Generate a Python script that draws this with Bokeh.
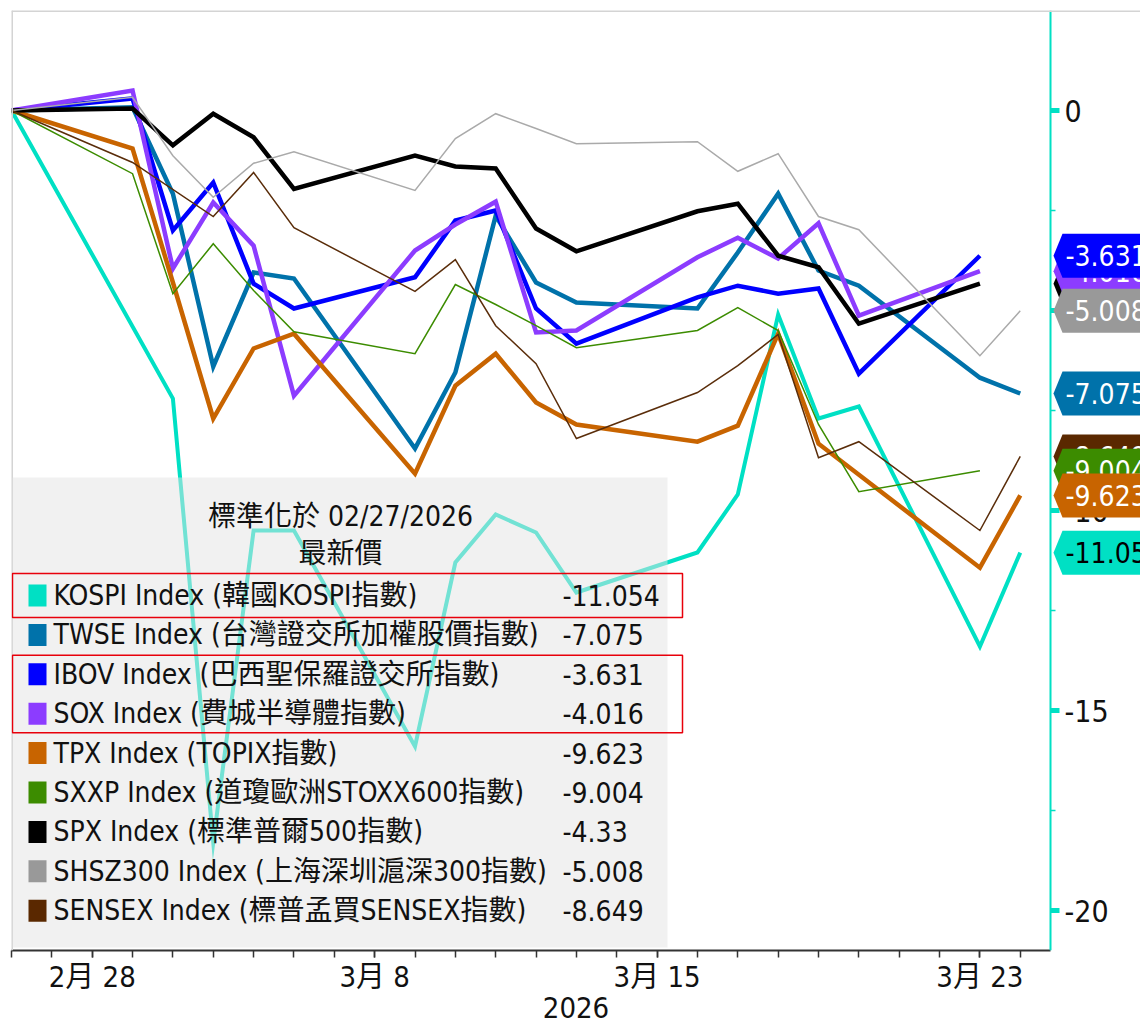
import pandas as pd
from bokeh.plotting import figure
from bokeh.models import FixedTicker, Range1d, BoxAnnotation, Label, PolyAnnotation, LinearAxis, Span
from bokeh.embed import file_html
from bokeh.resources import INLINE

# ---------------- data ----------------
dates = ["2026-02-27", "2026-03-02", "2026-03-03", "2026-03-04", "2026-03-05", "2026-03-06",
         "2026-03-09", "2026-03-10", "2026-03-11", "2026-03-12", "2026-03-13",
         "2026-03-16", "2026-03-17", "2026-03-18", "2026-03-19", "2026-03-20",
         "2026-03-23", "2026-03-24"]

kospi   = [0, None, -7.2, -18.3, -10.5, -10.5, -15.9, -11.3, -10.1, -10.55, -12.05,
           -11.05, -9.6, -5.1, -7.7, -7.4, -13.4, -11.054]
twse    = [0, 0.08, -2.08, -6.4, -4.05, -4.2, -8.45, -6.55, -2.63, -4.3, -4.8,
           -4.95, -3.55, -2.08, -4.0, -4.38, -6.68, -7.075]
ibov    = [0, 0.3, -3.0, -1.8, -4.33, -4.95, -4.17, -2.75, -2.5, -4.95, -5.83,
           -4.67, -4.38, -4.58, -4.45, -6.58, -3.631, None]
sox     = [0, 0.5, -3.95, -2.3, -3.38, -7.13, -3.5, -2.85, -2.28, -5.55, -5.5,
           -3.67, -3.18, -3.7, -2.82, -5.13, -4.016, None]
tpx     = [0, -0.95, -4.3, -7.7, -5.95, -5.58, -9.08, -6.88, -6.08, -7.3, -7.85,
           -8.28, -7.88, -5.58, -8.33, None, -11.43, -9.623]
sxxp    = [0, -1.58, -4.58, -3.33, -4.5, -5.53, -6.08, -4.35, -4.85, -5.38, -5.93,
           -5.5, -4.93, -5.5, -7.85, -9.53, -9.004, None]
spx     = [0, 0.05, -0.87, -0.08, -0.67, -1.96, -1.13, -1.4, -1.45, -2.95, -3.52,
           -2.52, -2.33, -3.63, -3.92, -5.33, -4.33, None]
shsz300 = [0, 0.33, -1.13, -2.17, -1.32, -1.03, -2.0, -0.7, -0.08, -0.45, -0.83,
           -0.78, -1.52, -1.08, -2.65, -2.98, -6.13, -5.008]
sensex  = [0, -1.3, None, -2.65, -1.55, -2.93, -4.52, -3.73, -5.38, -6.33, -8.2,
           -7.05, -6.38, -5.6, -8.68, -8.28, -10.5, -8.649]

series_names = ["KOSPI Index (韓國KOSPI指數)",
                "TWSE Index (台灣證交所加權股價指數)",
                "IBOV Index (巴西聖保羅證交所指數)",
                "SOX Index (費城半導體指數)",
                "TPX Index (TOPIX指數)",
                "SXXP Index (道瓊歐洲STOXX600指數)",
                "SPX Index (標準普爾500指數)",
                "SHSZ300 Index (上海深圳滬深300指數)",
                "SENSEX Index (標普孟買SENSEX指數)"]
last_values = ["-11.054", "-7.075", "-3.631", "-4.016", "-9.623", "-9.004", "-4.33", "-5.008", "-8.649"]
legend_title = ["標準化於 02/27/2026", "最新價"]

x_tick_dates = ["2026-03-01", "2026-03-08", "2026-03-15", "2026-03-23"]
x_tick_labels = ["2月 28", "3月 8", "3月 15", "3月 23"]
x_axis_title = "2026"
y_ticks = [0, -5, -10, -15, -20]
y_tick_labels = ["0", "-5", "-10", "-15", "-20"]
y_minor_ticks = [-2.5, -7.5, -12.5, -17.5]

all_series = [kospi, twse, ibov, sox, tpx, sxxp, spx, shsz300, sensex]

# ---------------- styles ----------------
colors = ["#00e0c4", "#0072aa", "#0000ff", "#8c3cff", "#c86400", "#3c8c00", "#000000", "#aaaaaa", "#5a2d0a"]
swatch_colors = ["#00e0c4", "#0072aa", "#0000ff", "#8c3cff", "#c86400", "#3c8c00", "#000000", "#999999", "#5a2800"]
pennant_colors = ["#00e0c4", "#0072aa", "#0000ff", "#8c3cff", "#c86400", "#3c8c00", "#000000", "#999999", "#5a2800"]
pennant_text = ["#000000"] + ["#ffffff"] * 8
widths = [4, 4.5, 4.5, 4.5, 4.5, 1.5, 4.5, 1.5, 1.5]
pennant_order = [8, 5, 4, 6, 3, 2, 7, 1, 0]

FONT = "'DejaVu Sans Condensed', Roboto, 'Noto Sans CJK TC', sans-serif"

W, H = 1140, 1028
BL, BT, BR, BB = 11, 10, 0, 78
FRAME_H = H - BT - BB
AXIS_DAY = 25.75          # where the value axis sits (just right of the last date)
X_END = 27.98             # frame continues under the value labels
Y_START, Y_END = -21, 2.5


def sx(page_x):
    return page_x - BL


def sy(page_y):
    return FRAME_H - (page_y - BT)


base = pd.Timestamp(dates[0])
day = [(pd.Timestamp(d) - base).days for d in dates]
tick_pos = [(pd.Timestamp(d) - base).days for d in x_tick_dates]

p = figure(width=W, height=H, x_range=Range1d(0, X_END), y_range=Range1d(Y_START, Y_END),
           y_axis_location=None, output_backend="svg", toolbar_location=None,
           min_border_left=BL, min_border_top=BT, min_border_right=BR, min_border_bottom=BB,
           background_fill_color="white", border_fill_color="white",
           outline_line_color=None)
p.title.visible = False
p.xgrid.visible = False
p.ygrid.visible = False

# light frame edges (top and left only)
p.add_layout(Span(location=Y_END, dimension="width", line_color="#d4d4d4", line_width=3))
p.add_layout(Span(location=0, dimension="height", line_color="#d4d4d4", line_width=3))

for vals, col, w in zip(all_series, colors, widths):
    xs = [d for d, v in zip(day, vals) if v is not None]
    ys = [v for v in vals if v is not None]
    p.line(xs, ys, line_color=col, line_width=w, line_join="miter")

# x axis
xa = p.xaxis[0]
xa.bounds = (0, AXIS_DAY)
xa.ticker = FixedTicker(ticks=tick_pos, minor_ticks=list(range(0, 26)))
xa.major_label_overrides = {t: lab for t, lab in zip(tick_pos, x_tick_labels)}
xa.axis_line_color = "#333333"
xa.axis_line_width = 2
xa.major_tick_line_color = "#333333"
xa.minor_tick_line_color = "#333333"
xa.major_tick_line_width = 1.5
xa.minor_tick_line_width = 1.5
xa.major_tick_in = 0
xa.major_tick_out = 7
xa.minor_tick_in = 0
xa.minor_tick_out = 7
xa.major_label_text_font = FONT
xa.major_label_text_font_size = "29px"
xa.major_label_text_color = "#111111"
xa.major_label_standoff = 2
xa.axis_label = x_axis_title
xa.axis_label_text_font = FONT
xa.axis_label_text_font_size = "29px"
xa.axis_label_text_font_style = "normal"
xa.axis_label_text_color = "#111111"
xa.axis_label_standoff = 0

# value axis on the right, pinned at the end of the date range
ya = LinearAxis(fixed_location=AXIS_DAY)
ya.ticker = FixedTicker(ticks=y_ticks, minor_ticks=y_minor_ticks)
ya.major_label_overrides = {t: lab for t, lab in zip(y_ticks, y_tick_labels)}
ya.axis_line_color = "#00e0c4"
ya.axis_line_width = 2
ya.major_tick_line_color = "#00e0c4"
ya.major_tick_line_width = 5
ya.major_tick_in = 0
ya.major_tick_out = 9
ya.minor_tick_line_color = "#00e0c4"
ya.minor_tick_line_width = 1.5
ya.minor_tick_in = 0
ya.minor_tick_out = 5
ya.major_label_text_font = FONT
ya.major_label_text_font_size = "30px"
ya.major_label_text_color = "#111111"
ya.major_label_standoff = 5
p.add_layout(ya, "right")

# legend panel (drawn as annotations)
p.add_layout(BoxAnnotation(left=sx(12), right=sx(667), top=sy(477), bottom=sy(947),
                           left_units="screen", right_units="screen",
                           top_units="screen", bottom_units="screen",
                           fill_color="#e4e4e4", fill_alpha=0.5, line_color=None))

for txt, py in zip(legend_title, [516, 553]):
    p.add_layout(Label(x=sx(340), y=sy(py), x_units="screen", y_units="screen", text=txt,
                       text_align="center", text_baseline="middle", text_font=FONT,
                       text_font_size="28px", text_color="#111111"))

ROW0, ROWSTEP = 595, 39.4
for i, (name, val, sc) in enumerate(zip(series_names, last_values, swatch_colors)):
    cy = ROW0 + ROWSTEP * i
    p.add_layout(BoxAnnotation(left=sx(28), right=sx(46), top=sy(cy - 11), bottom=sy(cy + 11),
                               left_units="screen", right_units="screen",
                               top_units="screen", bottom_units="screen",
                               fill_color=sc, fill_alpha=1, line_color=None))
    p.add_layout(Label(x=sx(53), y=sy(cy), x_units="screen", y_units="screen", text=name,
                       text_align="left", text_baseline="middle", text_font=FONT,
                       text_font_size="28px", text_color="#111111"))
    p.add_layout(Label(x=sx(562), y=sy(cy), x_units="screen", y_units="screen", text=val,
                       text_align="left", text_baseline="middle", text_font=FONT,
                       text_font_size="28px", text_color="#111111"))

# red highlight boxes
for r0, r1, pad in [(0, 0, 22), (2, 3, 19)]:
    p.add_layout(BoxAnnotation(left=sx(12), right=sx(682),
                               top=sy(ROW0 + ROWSTEP * r0 - pad), bottom=sy(ROW0 + ROWSTEP * r1 + pad),
                               left_units="screen", right_units="screen",
                               top_units="screen", bottom_units="screen",
                               fill_alpha=0, line_color="#e8000b", line_alpha=1, line_width=1.5))

# pennant value labels on the right axis
HALF = 0.55
for i in pennant_order:
    v = float(last_values[i])
    p.add_layout(PolyAnnotation(xs=[sx(1053), sx(1062), sx(1300), sx(1300), sx(1062)],
                                ys=[v, v + HALF, v + HALF, v - HALF, v - HALF],
                                xs_units="screen", ys_units="data",
                                fill_color=pennant_colors[i], fill_alpha=1,
                                line_color=None))
    p.add_layout(Label(x=sx(1065), y=v, x_units="screen", y_units="data", text=last_values[i],
                       text_align="left", text_baseline="middle", text_font=FONT,
                       text_font_size="28px", text_color=pennant_text[i]))

open("out.html", "w").write(file_html(p, INLINE, title="chart"))
